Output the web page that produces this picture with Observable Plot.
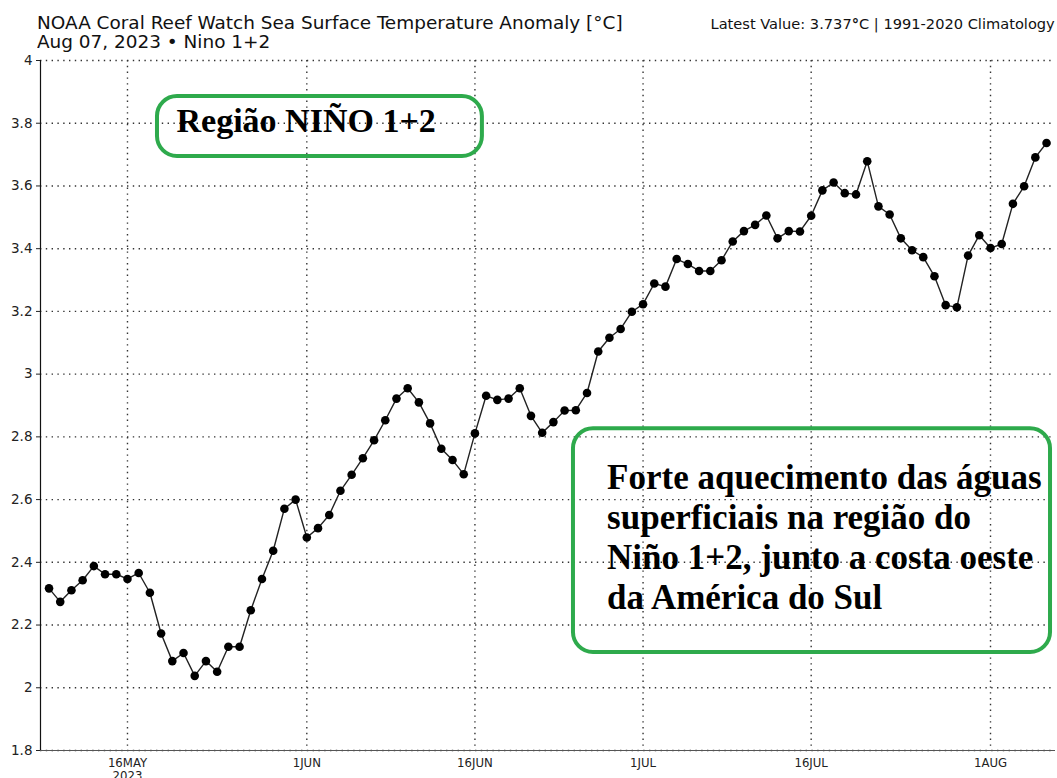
<!DOCTYPE html>
<html>
<head>
<meta charset="utf-8">
<script src="https://cdn.jsdelivr.net/npm/d3@7"></script>
<script src="https://cdn.jsdelivr.net/npm/@observablehq/plot@0.6"></script>
<style>
  html, body { margin: 0; padding: 0; background: #fff; }
  #wrap { position: relative; width: 1057px; height: 778px; overflow: hidden; }
  #header { position: relative; width: 1057px; height: 52px; font-family: "DejaVu Sans Condensed", "DejaVu Sans", sans-serif; color: #111; }
  #title { position: absolute; left: 37px; top: 14px; font-size: 17px; line-height: 19px; white-space: nowrap; transform: scaleX(1.206); transform-origin: 0 0; }
  #subtitle { position: absolute; left: 37px; top: 33px; font-size: 17px; line-height: 19px; white-space: nowrap; transform: scaleX(1.206); transform-origin: 0 0; }
  #latest { position: absolute; right: 2px; top: 16px; font-size: 14px; line-height: 16px; white-space: nowrap; transform: scaleX(1.16); transform-origin: 100% 0; }
  #chart svg { display: block; }
  #chart g[aria-label^="y-axis"] text { font-family: "DejaVu Sans", sans-serif; font-size: 13.5px; }
  #chart g[aria-label^="x-axis"] text { font-family: "DejaVu Sans Condensed", "DejaVu Sans", sans-serif; font-size: 13px; }
</style>
</head>
<body>
<div id="wrap">
  <div id="header">
    <div id="title">NOAA Coral Reef Watch Sea Surface Temperature Anomaly [°C]</div>
    <div id="subtitle">Aug 07, 2023 • Nino 1+2</div>
    <div id="latest">Latest Value: 3.737<b>°</b>C | 1991-2020 Climatology</div>
  </div>
  <div id="chart"></div>
</div>
<script>
// ---- data (daily SST anomaly, °C), first value on 2023-05-09 ----
const startDate = "2023-05-09";
const mayValues = [2.317, 2.274, 2.311, 2.343, 2.388, 2.362, 2.362, 2.347, 2.366, 2.303,
  2.173, 2.085, 2.111, 2.038, 2.085, 2.051, 2.131, 2.131, 2.247, 2.347, 2.437, 2.571, 2.600];
const juneValues = [2.479, 2.509, 2.551, 2.628, 2.679, 2.732, 2.789, 2.853, 2.922, 2.955,
  2.910, 2.843, 2.762, 2.726, 2.681, 2.811, 2.931, 2.918, 2.922, 2.955,
  2.867, 2.813, 2.847, 2.884, 2.885, 2.940, 3.072, 3.116, 3.144, 3.199];
const julyValues = [3.223, 3.289, 3.279, 3.367, 3.351, 3.329, 3.329, 3.363, 3.423, 3.456,
  3.476, 3.506, 3.433, 3.456, 3.455, 3.505, 3.586, 3.611, 3.577, 3.573,
  3.679, 3.535, 3.509, 3.433, 3.395, 3.373, 3.312, 3.220, 3.213, 3.378, 3.443];
const augustValues = [3.402, 3.415, 3.543, 3.599, 3.691, 3.737];

const xTickDates = ["2023-05-16", "2023-06-01", "2023-06-16", "2023-07-01", "2023-07-16", "2023-08-01"];
const xTickLabels = ["16MAY\n2023", "1JUN", "16JUN", "1JUL", "16JUL", "1AUG"];
const yTicks = [1.8, 2, 2.2, 2.4, 2.6, 2.8, 3, 3.2, 3.4, 3.6, 3.8, 4];

const annotationBoxes = [
  {x1: "2023-05-18T16:15Z", x2: "2023-06-16T16:00Z", y1: 3.694, y2: 3.885},
  {x1: "2023-06-24T19:00Z", x2: "2023-08-06T08:30Z", y1: 2.1125, y2: 2.826}
];
const annotationTexts = [
  {x: "2023-05-20T09:00Z", y: 3.806, anchor: "middle", text: "Região NIÑO 1+2"},
  {x: "2023-06-27T19:00Z", y: 2.724, anchor: "top",
   text: "Forte aquecimento das águas\nsuperficiais na região do\nNiño 1+2, junto a costa oeste\nda América do Sul"}
];

// ---- build table ----
const allValues = [...mayValues, ...juneValues, ...julyValues, ...augustValues];
const t0 = new Date(startDate + "T00:00Z");
const data = allValues.map((v, i) => ({date: d3.utcDay.offset(t0, i), value: v}));
const tickDates = xTickDates.map(s => new Date(s + "T00:00Z"));
const labelOf = new Map(tickDates.map((d, i) => [+d, xTickLabels[i]]));
const boxes = annotationBoxes.map(b => ({...b, x1: new Date(b.x1), x2: new Date(b.x2)}));
const texts = annotationTexts.map(t => ({...t, x: new Date(t.x)}));
const xDomain = [new Date("2023-05-08T05:45Z"), new Date("2023-08-06T19:10Z")];

const green = "#2eaa4c";
const gridStyle = {stroke: "#333", strokeWidth: 1.4, strokeDasharray: "1.4,4.4"};
const serif = "'Liberation Serif', 'Times New Roman', serif";

const chart = Plot.plot({
  width: 1057,
  height: 726,
  marginLeft: 40,
  marginRight: 2,
  marginTop: 8,
  marginBottom: 28,
  style: {fontFamily: "'DejaVu Sans Condensed', 'DejaVu Sans', sans-serif", fontSize: "12px", color: "#222", background: "white", overflow: "visible"},
  x: {type: "utc", domain: xDomain, ticks: tickDates, tickFormat: d => labelOf.get(+d) ?? "", tickSize: 0, tickPadding: 7, label: null},
  y: {domain: [1.8, 4], ticks: yTicks, tickFormat: d => String(d), tickSize: 4, tickPadding: 4, label: null},
  marks: [
    Plot.ruleY(yTicks, gridStyle),
    Plot.ruleX(tickDates, gridStyle),
    Plot.ruleY([1.8], {stroke: "#555", strokeWidth: 1}),
    Plot.ruleX([xDomain[0]], {stroke: "#111", strokeWidth: 1.2}),
    Plot.rect(boxes, {x1: "x1", x2: "x2", y1: "y1", y2: "y2", rx: 20, fill: "none", stroke: green, strokeWidth: 4}),
    Plot.line(data, {x: "date", y: "value", stroke: "#222", strokeWidth: 1.4}),
    Plot.dot(data, {x: "date", y: "value", r: 4.3, fill: "#000", stroke: "none"}),
    Plot.text(texts.filter(t => t.anchor === "middle"), {x: "x", y: "y", text: "text", textAnchor: "start", lineAnchor: "middle",
      fontSize: 34, fontWeight: "bold", fontFamily: serif, fill: "#000"}),
    Plot.text(texts.filter(t => t.anchor === "top"), {x: "x", y: "y", text: "text", textAnchor: "start", lineAnchor: "top", lineHeight: 1.14,
      fontSize: 35, fontWeight: "bold", fontFamily: serif, fill: "#000"})
  ]
});
document.getElementById("chart").appendChild(chart);
</script>
</body>
</html>
